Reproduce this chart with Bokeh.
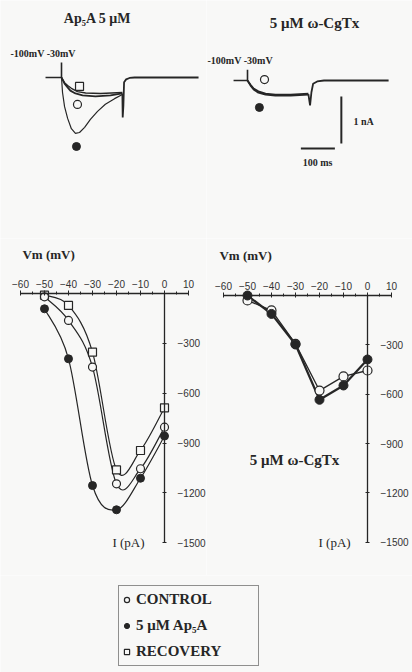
from bokeh.plotting import figure
from bokeh.layouts import column, row
from bokeh.models import Range1d, LinearAxis, FixedTicker, Label, Legend, LegendItem
from bokeh.embed import file_html
from bokeh.resources import INLINE

# ---------------- data ----------------
# I-V relations (Vm in mV, I in pA)
vm = [-50, -40, -30, -20, -10, 0]
control_ap5a = [-20, -162, -443, -1146, -1055, -805]
ap5a = [-92, -393, -1156, -1302, -1112, -858]
recovery = [-10, -72, -353, -1062, -945, -688]
control_cgtx = [-30, -91, -294, -578, -492, -456]
cgtx = [0, -112, -298, -634, -547, -389]

vm_ticks = [-60, -50, -40, -30, -20, -10, 0, 10]
vm_minor = [-55, -45, -35, -25, -15, -5, 5]
i_ticks = [-300, -600, -900, -1200, -1500]

# current traces (t in ms from step onset, I in nA)
pre_l_t = [-47, 0, 0, 0]
pre_l_i = [0, 0, 0.32, 0]
ctl_l_t = [0, 9, 18, 26, 41, 62, 100, 144, 179]
ctl_l_i = [0, -0.13, -0.21, -0.28, -0.34, -0.38, -0.40, -0.38, -0.34]
rec_l_t = [0, 9, 18, 29, 47, 71, 115, 179]
rec_l_i = [0, -0.11, -0.17, -0.23, -0.30, -0.33, -0.34, -0.32]
ap_l_t = [0, 3, 9, 18, 29, 41, 53, 68, 85, 106, 129, 156, 179]
ap_l_i = [0, -0.32, -0.62, -0.87, -1.09, -1.19, -1.17, -1.06, -0.89, -0.72, -0.57, -0.45, -0.36]
tail_l_t = [179, 180, 182, 184, 190, 200, 215, 403]
tail_l_i = [-0.34, -0.85, -0.60, -0.10, -0.04, -0.01, 0, 0]

pre_r_t = [-41, 0, 0, 0]
pre_r_i = [0, 0, 0.23, 0]
ctl_r_t = [0, 9, 18, 32, 53, 82, 127, 179]
ctl_r_i = [0, -0.09, -0.17, -0.23, -0.28, -0.30, -0.30, -0.28]
cg_r_t = [0, 9, 18, 32, 53, 82, 127, 179]
cg_r_i = [0, -0.11, -0.19, -0.26, -0.30, -0.32, -0.32, -0.30]
tail_r_t = [179, 184, 188, 193, 205, 225, 415]
tail_r_i = [-0.29, -0.53, -0.25, -0.07, -0.02, 0, 0]

scale_nA = 1.0
scale_ms = 100.0

BG = "#f8f8f7"
INK = "#262626"
SERIF = "Liberation Serif"
SANS = "Liberation Sans"


def base_fig(w, h, xr, yr):
    f = figure(width=w, height=h, x_range=Range1d(*xr), y_range=Range1d(*yr),
               output_backend="svg", toolbar_location=None, min_border=0,
               x_axis_type=None, y_axis_type=None,
               background_fill_color=BG, border_fill_color=BG,
               outline_line_color=None)
    return f


def add_label(f, x, y, text, size, bold=False, align="left", baseline="middle"):
    f.add_layout(Label(x=x, y=y, text=text, text_font=SERIF, text_font_size=size,
                       text_font_style="bold" if bold else "normal", text_color=INK,
                       text_align=align, text_baseline=baseline))


def smooth(f, xs, ys, **kw):
    n = len(xs)
    x0, y0, x1, y1, cx0, cy0, cx1, cy1 = [], [], [], [], [], [], [], []
    for i in range(n - 1):
        xm, ym = (xs[i - 1], ys[i - 1]) if i > 0 else (xs[i], ys[i])
        xp, yp = (xs[i + 2], ys[i + 2]) if i + 2 < n else (xs[i + 1], ys[i + 1])
        x0.append(xs[i]); y0.append(ys[i]); x1.append(xs[i + 1]); y1.append(ys[i + 1])
        cx0.append(xs[i] + (xs[i + 1] - xm) / 6.0); cy0.append(ys[i] + (ys[i + 1] - ym) / 6.0)
        cx1.append(xs[i + 1] - (xp - xs[i]) / 6.0); cy1.append(ys[i + 1] - (yp - ys[i]) / 6.0)
    f.bezier(x0=x0, y0=y0, x1=x1, y1=y1, cx0=cx0, cy0=cy0, cx1=cx1, cy1=cy1, **kw)


def iv_axes(f):
    xa = LinearAxis(fixed_location=0, bounds=(-60, 10),
                    ticker=FixedTicker(ticks=vm_ticks, minor_ticks=vm_minor),
                    axis_line_color=INK, axis_line_width=1.3,
                    major_tick_line_color=INK, minor_tick_line_color=INK,
                    major_tick_in=2, major_tick_out=3, minor_tick_in=1, minor_tick_out=2,
                    major_label_standoff=3, major_label_text_font=SANS,
                    major_label_text_font_size="10px", major_label_text_color="#333333")
    f.add_layout(xa, "above")
    ya = LinearAxis(fixed_location=0, bounds=(-1500, 0),
                    ticker=FixedTicker(ticks=i_ticks, minor_ticks=[]),
                    axis_line_color=INK, axis_line_width=1.3,
                    major_tick_line_color=INK, major_tick_in=2, major_tick_out=2,
                    major_label_standoff=11, major_label_text_font=SANS,
                    major_label_text_font_size="10px", major_label_text_color="#333333")
    f.add_layout(ya, "right")


# ---------------- top-left traces ----------------
f1 = base_fig(206, 238, (-179.4, 426.4), (-3.4255, 1.638))
f1.line(pre_l_t, pre_l_i, line_color=INK, line_width=1.6)
f1.line(ctl_l_t, ctl_l_i, line_color=INK, line_width=1.8)
f1.line(rec_l_t, rec_l_i, line_color=INK, line_width=1.4)
f1.line(ap_l_t, ap_l_i, line_color=INK, line_width=1.2)
f1.line(tail_l_t, tail_l_i, line_color=INK, line_width=1.8)
f1.scatter([53], [-0.19], marker="square", size=8, fill_color=BG, line_color=INK, line_width=1.2)
f1.scatter([47], [-0.574], marker="circle", size=8, fill_color=BG, line_color=INK, line_width=1.2)
f1.scatter([44], [-1.468], marker="circle", size=8, fill_color=INK, line_color=INK)
add_label(f1, 105.9, 1.255, "Ap\u2085A 5 \u03bcM", "14px", bold=True, align="center")
add_label(f1, -150, 0.51, "-100mV -30mV", "10px", bold=True)

# ---------------- top-right traces ----------------
f2 = base_fig(206, 238, (-120.6, 485.3), (-3.362, 1.702))
f2.line(pre_r_t, pre_r_i, line_color=INK, line_width=1.6)
f2.line(ctl_r_t, ctl_r_i, line_color=INK, line_width=1.8)
f2.line(cg_r_t, cg_r_i, line_color=INK, line_width=1.8)
f2.line(tail_r_t, tail_r_i, line_color=INK, line_width=1.8)
f2.scatter([50], [0.02], marker="circle", size=8, fill_color=BG, line_color=INK, line_width=1.2)
f2.scatter([35], [-0.574], marker="circle", size=8, fill_color=INK, line_color=INK)
f2.segment(x0=[276], y0=[-0.34], x1=[276], y1=[-0.34 - scale_nA], line_color=INK, line_width=2)
f2.segment(x0=[157], y0=[-1.447], x1=[157 + scale_ms], y1=[-1.447], line_color=INK, line_width=2)
add_label(f2, 311.8, -0.872, "1 nA", "10px", bold=True)
add_label(f2, 205.9, -1.745, "100 ms", "10px", bold=True, align="center")
add_label(f2, 197, 1.213, "5 \u03bcM \u03c9-CgTx", "15px", bold=True, align="center")
add_label(f2, -117.6, 0.426, "-100mV -30mV", "10px", bold=True)

# ---------------- left I-V ----------------
f3 = base_fig(206, 337, (-68.33, 17.5), (-1697.6, 331.1))
iv_axes(f3)
smooth(f3, vm, control_ap5a, line_color=INK, line_width=1.2)
smooth(f3, vm, recovery, line_color=INK, line_width=1.2)
smooth(f3, vm, ap5a, line_color=INK, line_width=1.2)
f3.scatter(vm, recovery, marker="square", size=8, fill_color=BG, line_color=INK, line_width=1.2)
f3.scatter(vm, control_ap5a, marker="circle", size=8, fill_color=BG, line_color=INK, line_width=1.2)
f3.scatter(vm, ap5a, marker="circle", size=8, fill_color=INK, line_color=INK)
add_label(f3, -59.2, 235, "Vm (mV)", "13px", bold=True)
add_label(f3, -21.7, -1499, "I (pA)", "13px")

# ---------------- right I-V ----------------
f4 = base_fig(206, 337, (-67.08, 18.75), (-1702.4, 346.6))
iv_axes(f4)
f4.line(vm, control_cgtx, line_color=INK, line_width=1.3)
f4.line(vm, cgtx, line_color=INK, line_width=2.2)
f4.scatter(vm, control_cgtx, marker="circle", size=9, fill_color=BG, line_color=INK, line_width=1.2)
f4.scatter(vm, cgtx, marker="circle", size=9, fill_color=INK, line_color=INK)
add_label(f4, -61.7, 243, "Vm (mV)", "13px", bold=True)
add_label(f4, -20.4, -1500, "I (pA)", "13px")
add_label(f4, -30.4, -1003, "5 \u03bcM \u03c9-CgTx", "15px", bold=True, align="center")

# ---------------- legend ----------------
f5 = base_fig(412, 97, (0, 1), (0, 1))
r1 = f5.scatter(vm, control_ap5a, marker="circle", size=8, fill_color=BG, line_color=INK, line_width=1.2)
r2 = f5.scatter(vm, ap5a, marker="circle", size=8, fill_color=INK, line_color=INK)
r3 = f5.scatter(vm, recovery, marker="square", size=8, fill_color=BG, line_color=INK, line_width=1.2)
leg = Legend(items=[LegendItem(label="CONTROL", renderers=[r1]),
                    LegendItem(label="5 \u03bcM Ap\u2085A", renderers=[r2]),
                    LegendItem(label="RECOVERY", renderers=[r3])],
             location=(118, 6), orientation="vertical",
             glyph_width=13, glyph_height=25, label_height=25, label_width=121,
             label_standoff=3, padding=1, spacing=1, margin=0,
             border_line_color=INK, border_line_width=1.5,
             background_fill_color=BG, background_fill_alpha=1.0,
             label_text_font=SERIF, label_text_font_style="bold",
             label_text_font_size="15px", label_text_color=INK)
f5.add_layout(leg)

layout = column(row(f1, f2), row(f3, f4), f5)
open("out.html", "w").write(file_html(layout, INLINE))
